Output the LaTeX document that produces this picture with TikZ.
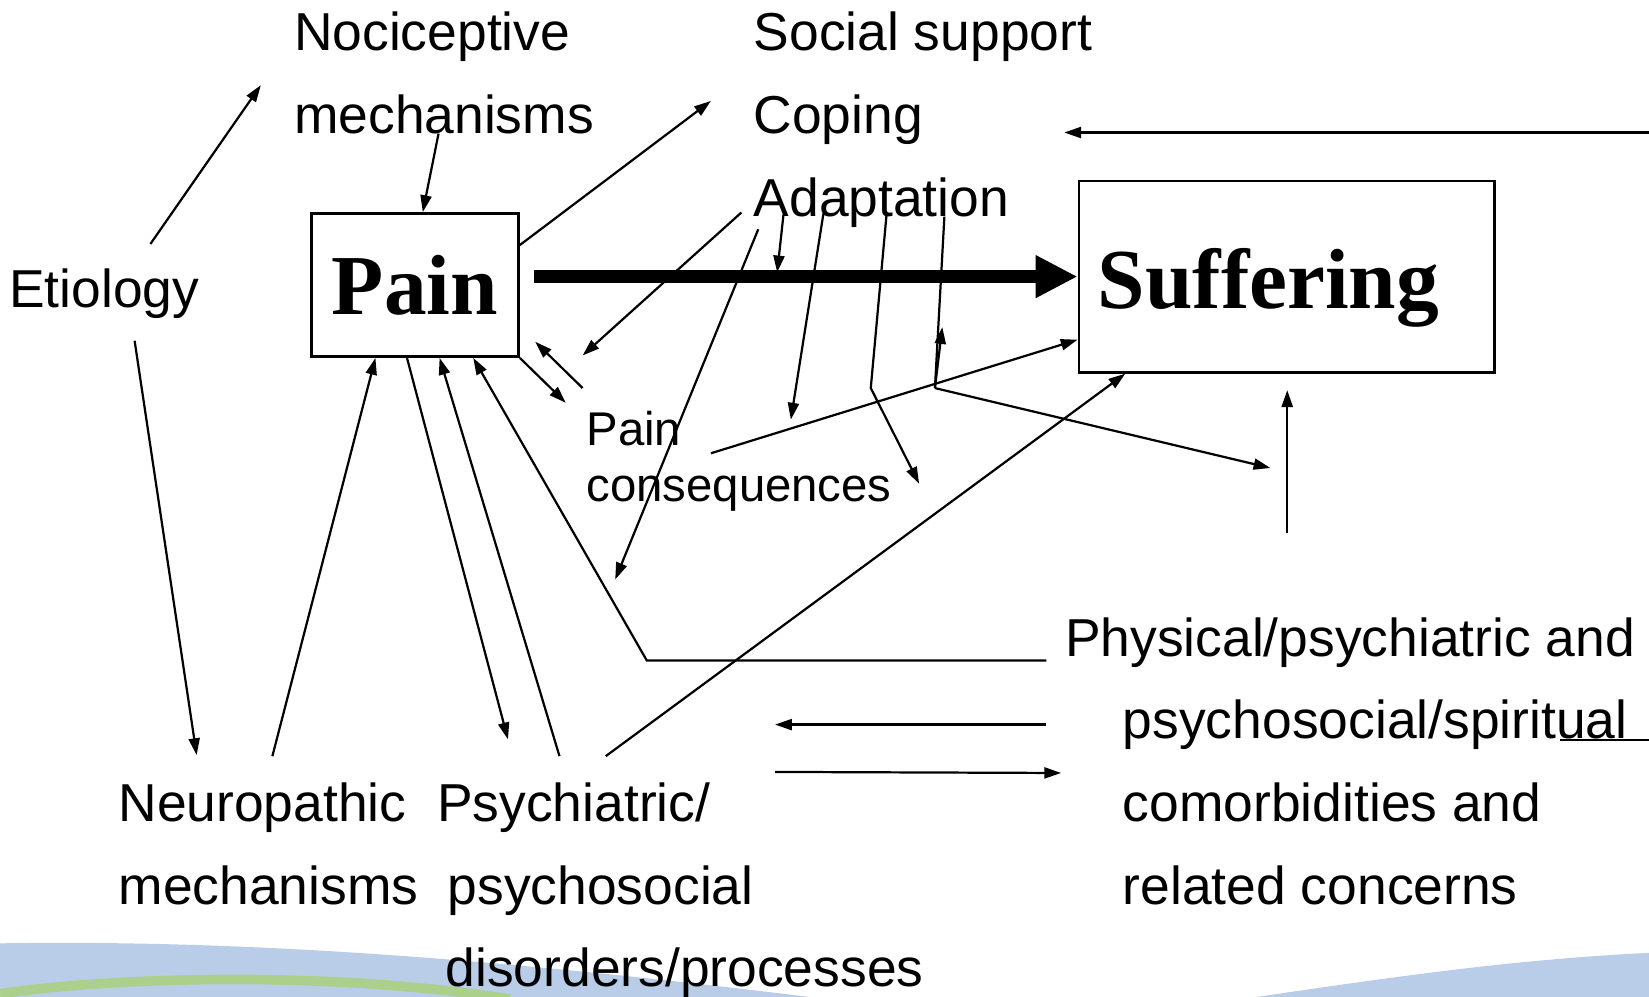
\documentclass[tikz,border=0pt]{standalone}
\usepackage{fontspec}
\setmainfont{Liberation Sans}
\newfontfamily\titlefont{Liberation Serif}
\usetikzlibrary{arrows.meta,positioning}
\definecolor{WaveBlue}{HTML}{B9CDE8}
\definecolor{WaveGreen}{HTML}{AAD08C}

\begin{document}
\begin{tikzpicture}[x=0.1mm,y=-0.1mm,>={Triangle[length=1.6mm,width=1.05mm]},
 lbl/.style={anchor=base west,inner sep=0pt,font=\fontsize{14.45}{17}\selectfont},
 small/.style={lbl,font=\fontsize{12.8}{15}\selectfont},
 box/.style={draw,line width=0.75pt,inner sep=0pt},
 big/.style={font=\titlefont\bfseries\fontsize{23.1}{27}\selectfont},
 link/.style={line width=0.6pt}]
\useasboundingbox (0,0) rectangle (1568,948);
\fill[WaveBlue] (0,897) .. controls (250,893) and (500,915) .. (770,948) -- (0,948) -- cycle;
\fill[WaveBlue] (1195,948) .. controls (1350,925) and (1450,912) .. (1568,906) -- (1568,948) -- cycle;
\draw[WaveGreen,line width=2.6pt] (0,945) .. controls (90,931) and (300,921) .. (485,950);

\node[lbl] (etio) at (8,292) {Etiology};
\node[lbl] (noci) at (279,48) {Nociceptive};
\node[lbl] (nocimech) at (279,127) {mechanisms};
\node[lbl] (soc) at (716,48) {Social support};
\node[lbl] (cop) at (716,127) {Coping};
\node[lbl] (adap) at (716,206) {Adaptation};
\node[box,big,minimum width=19.7mm,minimum height=13.6mm] (pain) at (394.5,271) {Pain};
\node[box,minimum width=39.5mm,minimum height=18.2mm] (suff) at (1223.5,263) {};
\node[big,anchor=base west,inner sep=0pt] (sufftxt) at (1043,293) {Suffering};
\node[small] (cons) at (557,424) {Pain};
\node[small] (conseq) at (557,477) {consequences};
\node[lbl] (neuro) at (112,781) {Neuropathic};
\node[lbl] (neuromech) at (112,860) {mechanisms};
\node[lbl] (psy) at (415,781) {Psychiatric/};
\node[lbl] (psysoc) at (425,860) {psychosocial};
\node[lbl] (psydis) at (423,938) {disorders/processes};
\node[lbl] (phys) at (1012,624) {Physical/psychiatric and};
\node[lbl] (physsoc) at (1067,702) {psychosocial/spiritual};
\node[lbl] (physcom) at (1067,781) {comorbidities and};
\node[lbl] (physrel) at (1067,860) {related concerns};

\coordinate (etioUp) at (143,232);
\coordinate (etioDown) at (128,324);
\coordinate (nociTip) at (248,81);
\coordinate (mechOut) at (417,127);
\coordinate (copTip) at (676,96);
\coordinate (fatStart) at (508,263);
\coordinate (adapA) at (705,202);
\coordinate (adapB) at (721,218);
\coordinate (adapC) at (745,204);
\coordinate (adapD) at (783,203);
\coordinate (adapE) at (843,204);
\coordinate (adapF) at (898,206);
\coordinate (consL) at (554,338);
\coordinate (consUp) at (554,369);
\coordinate (painIn) at (509,325);
\coordinate (consTip) at (538,383);
\coordinate (longTip) at (585,551);
\coordinate (fatTip) at (739,259);
\coordinate (downTip) at (752,399);
\coordinate (kneeA) at (828,369);
\coordinate (kneeATip) at (874,460);
\coordinate (kneeB) at (889,369);
\coordinate (kneeBUp) at (896,311);
\coordinate (kneeBTip) at (1208,445);
\coordinate (consOut) at (676,431);
\coordinate (physUp) at (1224,507);
\coordinate (suffIn) at (1224,371);
\coordinate (topR) at (1568,126);
\coordinate (topTip) at (1012,126);
\coordinate (neuroTip) at (187,718);
\coordinate (neuroOut) at (259,719);
\coordinate (psyTip) at (483,703);
\coordinate (psyOut) at (532,719);
\coordinate (psySuff) at (576,719);
\coordinate (physOut) at (995,628);
\coordinate (physKnee) at (615,628);
\coordinate (midLStart) at (995,689);
\coordinate (midL) at (737,689);
\coordinate (midR) at (737,734);
\coordinate (midRTip) at (1009,735);
\coordinate (spirL) at (1483,704);
\coordinate (spirR) at (1568,704);

\draw[link,->] (etioUp) -- (nociTip);
\draw[link,->] (mechOut) -- (pain.north -| 402,0);
\draw[link,->] (pain.east |- 0,233) -- (copTip);
\draw[line width=3.6pt,-{Triangle[length=4mm,width=3.8mm]}] (fatStart) -- (suff.west |- 0,263);
\draw[link,->] (adapA) -- (consL);
\draw[link,->] (consUp) -- (painIn);
\draw[link,->] (pain.south east) -- (consTip);
\draw[link,->] (adapB) -- (longTip);
\draw[link,->] (adapC) -- (fatTip);
\draw[link,->] (adapD) -- (downTip);
\draw[link,->] (adapE) -- (kneeA) -- (kneeATip);
\draw[link] (adapF) -- (kneeB);
\draw[link,->] (kneeB) -- (kneeBUp);
\draw[link,->] (kneeB) -- (kneeBTip);
\draw[link,->] (consOut) -- (suff.west |- 0,323);
\draw[link,->] (psySuff) -- (suff.south -| 1070,0);
\draw[link,->] (physUp) -- (suffIn);
\draw[link,->] (topR) -- (topTip);
\draw[link,->] (etioDown) -- (neuroTip);
\draw[link,->] (neuroOut) -- (pain.south -| 357,0);
\draw[link,->] (pain.south -| 387,0) -- (psyTip);
\draw[link,->] (psyOut) -- (pain.south -| 418,0);
\draw[link,->] (physOut) -- (physKnee) -- (pain.south -| 450,0);
\draw[link,->] (midLStart) -- (midL);
\draw[link,->] (midR) -- (midRTip);
\draw[link] (spirL) -- (spirR);
\end{tikzpicture}
\end{document}
